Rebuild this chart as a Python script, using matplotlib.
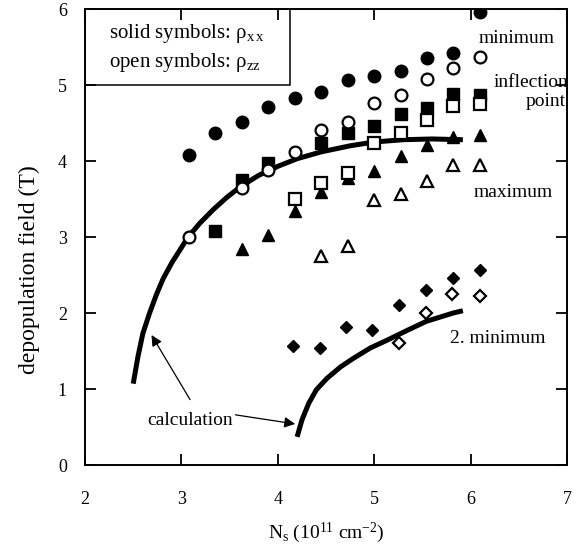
import matplotlib
matplotlib.use("Agg")
import matplotlib.pyplot as plt
from matplotlib.patches import Rectangle

plt.rcParams['font.family'] = ['Liberation Serif', 'DejaVu Serif']
plt.rcParams['mathtext.fontset'] = 'custom'
plt.rcParams['mathtext.rm'] = 'Liberation Serif'
plt.rcParams['mathtext.it'] = 'Liberation Serif:italic'

# minimum
min_xx_ns = [3.08, 3.35, 3.63, 3.90, 4.18, 4.45, 4.73, 5.00, 5.28, 5.55, 5.82, 6.10]
min_xx_b = [4.08, 4.37, 4.51, 4.71, 4.83, 4.91, 5.07, 5.12, 5.18, 5.36, 5.42, 5.96]
min_zz_ns = [3.08, 3.63, 3.90, 4.18, 4.45, 4.73, 5.00, 5.28, 5.55, 5.82, 6.10]
min_zz_b = [3.00, 3.64, 3.88, 4.12, 4.41, 4.51, 4.76, 4.87, 5.08, 5.22, 5.37]
# inflection point
infl_xx_ns = [3.35, 3.63, 3.90, 4.45, 4.73, 5.00, 5.28, 5.55, 5.82, 6.10]
infl_xx_b = [3.08, 3.75, 3.97, 4.24, 4.37, 4.46, 4.62, 4.70, 4.88, 4.87]
infl_zz_ns = [4.18, 4.45, 4.73, 5.00, 5.28, 5.55, 5.82, 6.10]
infl_zz_b = [3.50, 3.71, 3.84, 4.24, 4.37, 4.54, 4.72, 4.75]
# maximum
max_xx_ns = [3.63, 3.90, 4.18, 4.45, 4.73, 5.00, 5.28, 5.55, 5.82, 6.10]
max_xx_b = [2.84, 3.03, 3.34, 3.59, 3.78, 3.87, 4.06, 4.21, 4.32, 4.34]
max_zz_ns = [4.45, 4.73, 5.00, 5.28, 5.55, 5.82, 6.10]
max_zz_b = [2.75, 2.88, 3.49, 3.57, 3.74, 3.95, 3.95]
# 2. minimum
min2_xx_ns = [4.16, 4.44, 4.71, 4.98, 5.26, 5.54, 5.82, 6.10]
min2_xx_b = [1.57, 1.54, 1.81, 1.78, 2.11, 2.30, 2.46, 2.57]
min2_zz_ns = [5.26, 5.54, 5.81, 6.10]
min2_zz_b = [1.60, 2.00, 2.25, 2.22]

# calculated curves
calc1_ns = [2.50, 2.55, 2.60, 2.67, 2.74, 2.81, 2.90, 2.99, 3.07, 3.19, 3.33, 3.47,
            3.61, 3.80, 4.00, 4.20, 4.45, 4.75, 5.00, 5.30, 5.60, 5.92]
calc1_b = [1.07, 1.43, 1.73, 2.00, 2.24, 2.45, 2.66, 2.84, 3.00, 3.18, 3.36, 3.52,
           3.66, 3.81, 3.93, 4.03, 4.12, 4.20, 4.25, 4.28, 4.29, 4.28]
calc2_ns = [4.20, 4.25, 4.32, 4.40, 4.51, 4.65, 4.78, 4.96, 5.13, 5.34, 5.54, 5.82, 5.92]
calc2_b = [0.37, 0.59, 0.81, 0.99, 1.14, 1.29, 1.40, 1.54, 1.64, 1.77, 1.89, 2.00, 2.03]

fig = plt.figure(figsize=(5.78, 5.52), dpi=100)
ax = fig.add_axes([85 / 578, 1 - 465 / 552, 482 / 578, 456 / 552])

ax.plot(calc1_ns, calc1_b, color='black', lw=3.6, solid_capstyle='butt',
        solid_joinstyle='round', zorder=2)
ax.plot(calc2_ns, calc2_b, color='black', lw=3.6, solid_capstyle='butt',
        solid_joinstyle='round', zorder=2)

solid = dict(ls='none', color='black', zorder=3)
hollow = dict(ls='none', mfc='white', mec='black', mew=1.6, zorder=4)
ax.plot(min_xx_ns, min_xx_b, 'o', ms=9, **solid)
ax.plot(infl_xx_ns, infl_xx_b, 's', ms=8.5, **solid)
ax.plot(max_xx_ns, max_xx_b, '^', ms=9, **solid)
ax.plot(min2_xx_ns, min2_xx_b, 'D', ms=6.5, **solid)
ax.plot(min_zz_ns, min_zz_b, 'o', ms=8.5, **hollow)
ax.plot(infl_zz_ns, infl_zz_b, 's', ms=8, **hollow)
ax.plot(max_zz_ns, max_zz_b, '^', ms=8.5, **hollow)
ax.plot(min2_zz_ns, min2_zz_b, 'D', ms=6, **hollow)

ax.set_xlim(2, 7)
ax.set_ylim(0, 6)
ax.set_xticks([2, 3, 4, 5, 6, 7])
ax.set_yticks([0, 1, 2, 3, 4, 5, 6])
ax.tick_params(direction='in', length=8, width=1.3, top=True, right=True, labelsize=13)
ax.tick_params(axis='x', pad=19)
ax.tick_params(axis='y', pad=13)
for sp in ax.spines.values():
    sp.set_linewidth(1.4)

ax.set_xlabel(r'N$_\mathrm{s}$ (10$^{11}$ cm$^{\mathrm{-2}}$)', fontsize=14, labelpad=9)
ax.set_ylabel('depopulation field (T)', fontsize=17)
ax.yaxis.set_label_coords(-0.093, 0.428)

# symbol key box
ax.add_patch(Rectangle((2, 5), 2.13, 1, fill=False, lw=1.1, color='black', zorder=5))
ax.text(2.25, 5.68, r'solid symbols: ρ$_{\mathrm{x\,x}}$', fontsize=15, va='center')
ax.text(2.25, 5.29, r'open symbols: ρ$_{\mathrm{zz}}$', fontsize=15, va='center')

ax.text(6.48, 5.61, 'minimum', fontsize=14, ha='center', va='center')
ax.text(6.24, 5.03, 'inflection', fontsize=14, ha='left', va='center')
ax.text(6.99, 4.78, 'point', fontsize=14, ha='right', va='center')
ax.text(6.44, 3.59, 'maximum', fontsize=14, ha='center', va='center')
ax.text(6.28, 1.66, '2. minimum', fontsize=14, ha='center', va='center')
ax.text(3.09, 0.58, 'calculation', fontsize=14, ha='center', va='center')

arrow = dict(arrowstyle='-|>', color='black', lw=0.9, mutation_scale=16, shrinkA=0, shrinkB=0)
ax.annotate('', xy=(2.69, 1.71), xytext=(3.09, 0.86), arrowprops=arrow)
ax.annotate('', xy=(4.18, 0.54), xytext=(3.56, 0.66), arrowprops=arrow)

fig.savefig('out.png', dpi=100)
